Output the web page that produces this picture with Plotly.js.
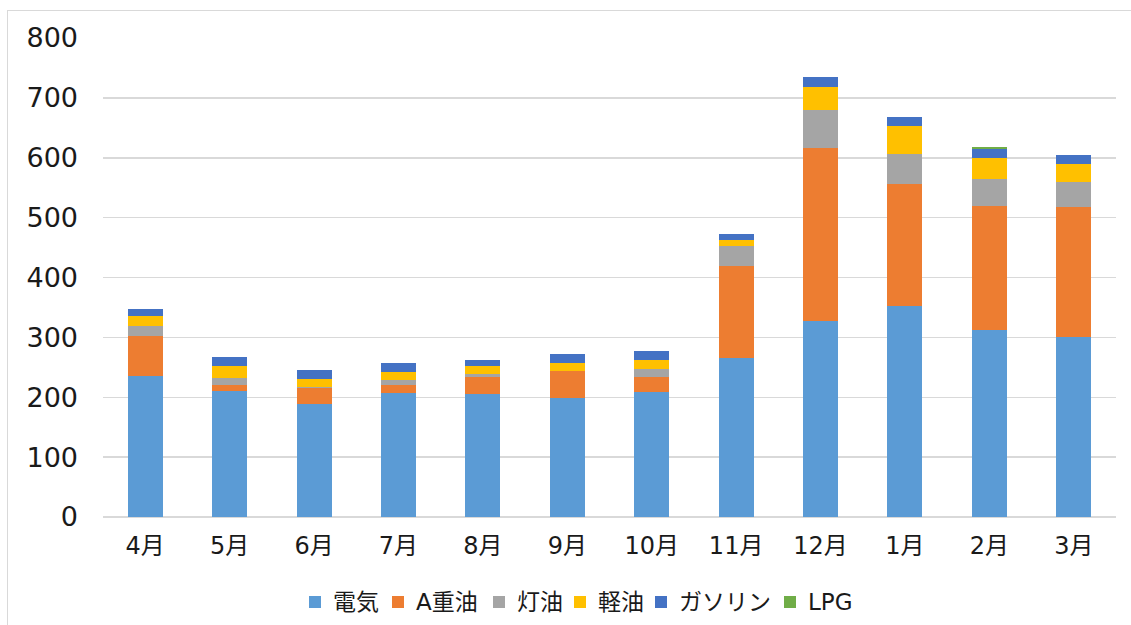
<!DOCTYPE html>
<html>
<head>
<meta charset="utf-8">
<script src="https://cdn.plot.ly/plotly-3.0.1.min.js"></script>
<style>
  html, body { margin: 0; padding: 0; background: #ffffff; overflow: hidden; }
  #frame { position: absolute; left: 7px; top: 10px; width: 1300px; height: 800px;
           border: 1px solid #d9d9d9; box-sizing: border-box; }
  #chart { position: absolute; left: 0; top: 0; width: 1131px; height: 625px; }
</style>
</head>
<body>
<div id="frame"></div>
<div id="chart"></div>
<script>
// Monthly energy use, stacked by fuel type
const months = ['4月', '5月', '6月', '7月', '8月', '9月', '10月', '11月', '12月', '1月', '2月', '3月'];
const electricity = [235, 210, 189, 207, 206, 198, 208, 266, 327, 353, 313, 300];
const heavyOilA   = [67, 10, 26, 13, 28, 46.5, 25, 153.5, 289, 203, 207, 218];
const kerosene    = [17, 12, 2, 9, 5, 0, 15, 33.5, 64, 50, 44.5, 41.5];
const diesel      = [17, 20, 13, 13, 13, 13.5, 15, 10, 38, 47, 35.5, 30];
const gasoline    = [11, 15, 15, 15, 10, 15, 15, 10, 17, 15, 14.5, 15];
const lpg         = [0, 0, 0, 0, 0, 0, 0, 0, 0, 0, 3.5, 0];
const yTicks = [0, 100, 200, 300, 400, 500, 600, 700, 800];

const seriesNames  = ['電気', 'A重油', '灯油', '軽油', 'ガソリン', 'LPG'];
const seriesValues = [electricity, heavyOilA, kerosene, diesel, gasoline, lpg];
const seriesColors = ['#5B9BD5', '#ED7D31', '#A5A5A5', '#FFC000', '#4472C4', '#70AD47'];

const FONT = '"DejaVu Sans", "Noto Sans CJK JP", sans-serif';

// Plot-area geometry in pixels (used to place the legend row below the axis)
const W = 1131, H = 625;
const M = { l: 103, r: 15, t: 38, b: 108 };
const plotW = W - M.l - M.r;
const plotH = H - M.t - M.b;
const toPaperX = px => (px - M.l) / plotW;
const toPaperY = py => (H - M.b - py) / plotH;

// Legend row: left edge of each colour key, in page pixels
const legendKeyLeft = [309, 392, 493, 574, 655, 784];
const legendRowY = 602;
const keySize = 12;
const keyToText = 22;

const traces = seriesNames.map((name, i) => ({
  type: 'bar',
  name: name,
  x: months,
  y: seriesValues[i],
  marker: { color: seriesColors[i], line: { width: 0 } },
  hoverinfo: 'skip',
  showlegend: false
}));

const legendShapes = seriesNames.map((name, i) => ({
  type: 'rect',
  xref: 'paper', yref: 'paper',
  xsizemode: 'pixel', ysizemode: 'pixel',
  xanchor: toPaperX(legendKeyLeft[i]), yanchor: toPaperY(legendRowY),
  x0: 0, x1: keySize, y0: -keySize / 2, y1: keySize / 2,
  fillcolor: seriesColors[i],
  line: { width: 0 },
  layer: 'above'
}));

const legendLabels = seriesNames.map((name, i) => ({
  text: name,
  xref: 'paper', yref: 'paper',
  x: toPaperX(legendKeyLeft[i] + keyToText), y: toPaperY(legendRowY),
  xanchor: 'left', yanchor: 'middle',
  showarrow: false,
  font: { family: FONT, size: 23, color: '#1a1a1a' }
}));

const layout = {
  width: W,
  height: H,
  barmode: 'stack',
  bargap: 0.586,
  paper_bgcolor: 'rgba(0,0,0,0)',
  plot_bgcolor: 'rgba(0,0,0,0)',
  margin: { l: M.l, r: M.r, t: M.t, b: M.b, autoexpand: false },
  font: { family: FONT, color: '#1a1a1a' },
  showlegend: false,
  shapes: legendShapes,
  annotations: legendLabels,
  xaxis: {
    type: 'category',
    tickfont: { family: FONT, size: 24, color: '#1a1a1a' },
    ticks: '',
    showline: false,
    showgrid: false,
    ticklabelstandoff: 12
  },
  yaxis: {
    range: [0, 800],
    tickvals: yTicks,
    ticktext: yTicks.map(String),
    tickfont: { family: FONT, size: 27, color: '#1a1a1a' },
    ticks: '',
    showline: false,
    showgrid: true,
    gridcolor: '#d9d9d9',
    gridwidth: 1.5,
    zeroline: true,
    zerolinecolor: '#d9d9d9',
    zerolinewidth: 1.5,
    ticklabelstandoff: 24
  }
};

Plotly.newPlot('chart', traces, layout, { displayModeBar: false, staticPlot: true });
</script>
</body>
</html>
